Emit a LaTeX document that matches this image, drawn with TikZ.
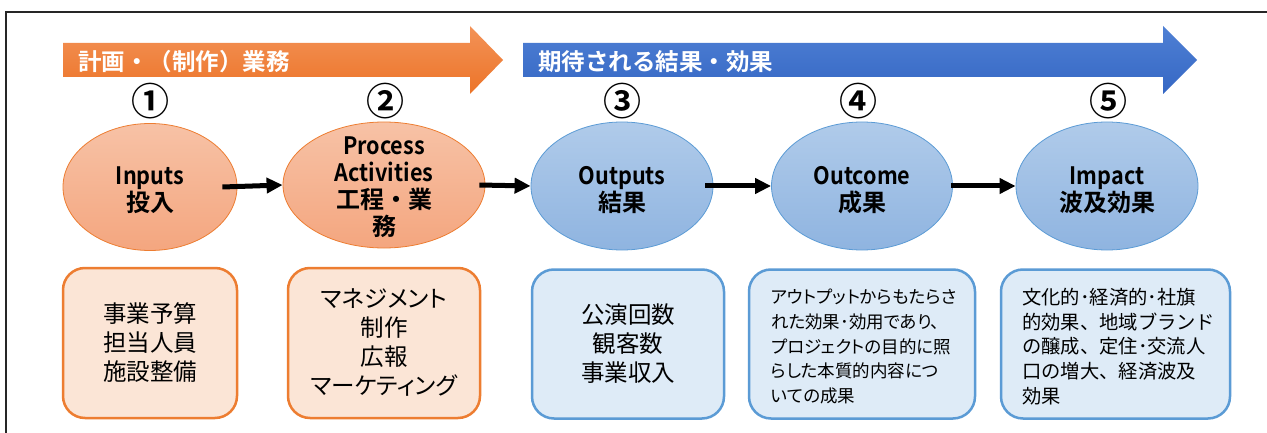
\documentclass[tikz,border=0pt]{standalone}
\usepackage{fontspec}
\usetikzlibrary{shapes.geometric,arrows.meta}
\setmainfont{Noto Sans CJK JP}
\newfontfamily\jpbold{Noto Sans CJK JP Bold}
\newfontfamily\latbold[FakeStretch=0.9]{Noto Sans CJK JP Bold}
\newfontfamily\jpprop[RawFeature=+palt]{Noto Sans CJK JP}
\definecolor{oline}{HTML}{ED7D31}
\definecolor{ofill}{HTML}{FBE5D6}
\definecolor{bline}{HTML}{5B9BD5}
\definecolor{bfill}{HTML}{DEEBF7}
\definecolor{etop}{HTML}{F7C2A6}
\definecolor{ebot}{HTML}{F4A67F}
\definecolor{ctop}{HTML}{B0CBEA}
\definecolor{cbot}{HTML}{8FB4E0}
\definecolor{atop1}{HTML}{F39257}
\definecolor{abot1}{HTML}{EC7428}
\definecolor{atop2}{HTML}{4F80D4}
\definecolor{abot2}{HTML}{3567C4}
\tikzset{
  ell/.style={ellipse, draw=oline, line width=0.8pt, top color=etop, bottom color=ebot, inner sep=0pt},
  circ/.style={ellipse, draw=bline, line width=0.8pt, top color=ctop, bottom color=cbot, inner sep=0pt},
  etext/.style={align=center, inner sep=0pt, font=\jpbold\fontsize{24}{27}\selectfont},
  obox/.style={rectangle, rounded corners=22pt, draw=oline, line width=2.5pt, fill=ofill, align=center, inner sep=0pt, font=\fontsize{23.5}{29}\selectfont},
  bbox/.style={rectangle, rounded corners=22pt, draw=bline, line width=2.5pt, fill=bfill, align=center, inner sep=0pt, font=\fontsize{23.5}{29}\selectfont},
  btextp/.style={align=left, inner sep=0pt, font=\jpprop\fontsize{17.5}{24.7}\selectfont},
  btext/.style={align=left, inner sep=0pt, font=\fontsize{19.3}{24.7}\selectfont},
  num/.style={font=\jpbold\fontsize{38}{38}\selectfont, inner sep=0pt},
  ttl/.style={font=\jpbold\fontsize{23.5}{23.5}\selectfont, text=white, inner sep=0pt, anchor=west},
  arr/.style={line width=5pt, -{Triangle[length=16pt,width=15pt]}},
}
\begin{document}
\begin{tikzpicture}[x=1pt,y=-1pt]
\useasboundingbox (0,0) rectangle (1267,433);
\fill[white] (0,0) rectangle (1267,433);
\draw[line width=1.8pt, black!85] (6,433) -- (6,12) -- (1267,12);
% top arrows
\shade[top color=atop1, bottom color=abot1] (63,43) -- (470,43) -- (470,26) -- (503,60) -- (470,94) -- (470,77) -- (63,77) -- cycle;
\shade[top color=atop2, bottom color=abot2] (523,43) -- (1163,43) -- (1163,26) -- (1197,60) -- (1163,94) -- (1163,77) -- (523,77) -- cycle;
\node[ttl] (t1) at (78,62) {計画・（制作）業務};
\node[ttl] (t2) at (538,62) {期待される結果・効果};
% numbers
\node[num] (n1) at (150,101) {①};
\node[num] (n2) at (385,101) {②};
\node[num] (n3) at (622,101) {③};
\node[num] (n4) at (858,101) {④};
\node[num] (n5) at (1108,101) {⑤};
% ellipses
\node[ell, minimum width=174pt, minimum height=127pt] (in) at (150,187) {};
\node[ell, minimum width=202pt, minimum height=126pt] (pr) at (384,185) {};
\node[circ, minimum width=182pt, minimum height=128pt] (out) at (622,186) {};
\node[circ, minimum width=181pt, minimum height=128pt] (oc) at (862,186) {};
\node[circ, minimum width=182pt, minimum height=128pt] (im) at (1107,186) {};
\node[etext] (inT) at (150,190) {{\latbold Inputs}\\投入};
\node[etext] (prT) at (384,187) {{\latbold Process}\\{\latbold Activities}\\工程・業\\務};
\node[etext] (outT) at (622,190) {{\latbold Outputs}\\結果};
\node[etext] (ocT) at (862,190) {{\latbold Outcome}\\成果};
\node[etext] (imT) at (1107,190) {{\latbold Impact}\\波及効果};
% arrows
\draw[arr] ([xshift=-15pt]in.east) -- (pr.west);
\draw[arr] ([xshift=-6pt]pr.east) -- (out.west);
\draw[arr] ([xshift=-8pt]out.east) -- (oc.west);
\draw[arr] ([xshift=-2pt]oc.east) -- (im.west);
% boxes
\node[obox, minimum width=174pt, minimum height=150pt] (b1) at (150,343) {事業予算\\担当人員\\施設整備};
\node[obox, minimum width=192pt, minimum height=150pt, font=\jpprop\fontsize{23.5}{29}\selectfont] (b2) at (384,343) {マネジメント\\制作\\広報\\マーケティング};
\node[bbox, minimum width=192pt, minimum height=149pt] (b3) at (628,344) {公演回数\\観客数\\事業収入};
\node[bbox, minimum width=226pt, minimum height=149pt] (b4) at (862,344) {};
\node[bbox, minimum width=229pt, minimum height=149pt] (b5) at (1115.5,344) {};
\node[btextp, anchor=west] (b4t) at (771,346.5) {アウトプットからもたらさ\\れた効果･効用であり、\\プロジェクトの目的に照\\らした本質的内容につ\\いての成果};
\node[btext, anchor=west] (b5t) at (1022,346.5) {文化的･経済的･社旗\\的効果、地域ブランド\\の醸成、定住･交流人\\口の増大、経済波及\\効果};
\end{tikzpicture}
\end{document}
